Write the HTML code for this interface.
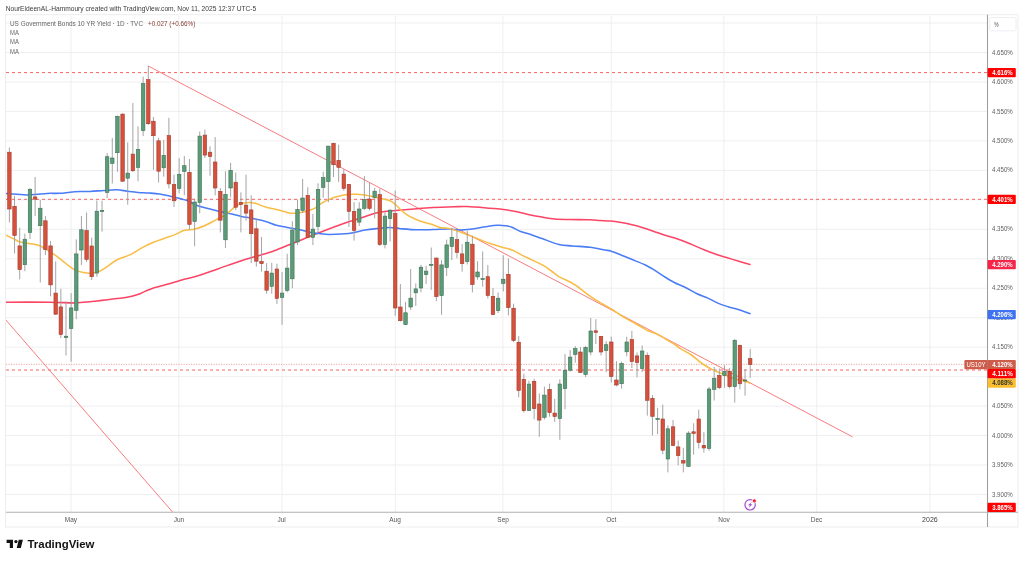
<!DOCTYPE html>
<html><head><meta charset="utf-8"><style>
html,body{margin:0;padding:0;background:#fff;width:1024px;height:561px;overflow:hidden}
body{position:relative;font-family:"Liberation Sans",sans-serif}
svg{position:absolute;left:0;top:0;filter:blur(0.35px)}
text{font-family:"Liberation Sans",sans-serif}
</style></head><body>
<svg width="1024" height="561" viewBox="0 0 1024 561">

<text x="5.7" y="10.8" font-size="7.9" fill="#3a3a3a" textLength="250.6" lengthAdjust="spacingAndGlyphs">NourEldeenAL-Hammoury created with TradingView.com, Nov 11, 2025 12:37 UTC-5</text>
<rect x="5.5" y="14.7" width="1012.5" height="512.3" fill="none" stroke="#ededed" stroke-width="1"/>
<line x1="6" x2="987" y1="23.03" y2="23.03" stroke="#efeff1" stroke-width="1"/>
<line x1="6" x2="987" y1="52.50" y2="52.50" stroke="#efeff1" stroke-width="1"/>
<line x1="6" x2="987" y1="81.97" y2="81.97" stroke="#efeff1" stroke-width="1"/>
<line x1="6" x2="987" y1="111.43" y2="111.43" stroke="#efeff1" stroke-width="1"/>
<line x1="6" x2="987" y1="140.90" y2="140.90" stroke="#efeff1" stroke-width="1"/>
<line x1="6" x2="987" y1="170.37" y2="170.37" stroke="#efeff1" stroke-width="1"/>
<line x1="6" x2="987" y1="199.83" y2="199.83" stroke="#efeff1" stroke-width="1"/>
<line x1="6" x2="987" y1="229.30" y2="229.30" stroke="#efeff1" stroke-width="1"/>
<line x1="6" x2="987" y1="258.77" y2="258.77" stroke="#efeff1" stroke-width="1"/>
<line x1="6" x2="987" y1="288.23" y2="288.23" stroke="#efeff1" stroke-width="1"/>
<line x1="6" x2="987" y1="317.70" y2="317.70" stroke="#efeff1" stroke-width="1"/>
<line x1="6" x2="987" y1="347.17" y2="347.17" stroke="#efeff1" stroke-width="1"/>
<line x1="6" x2="987" y1="376.63" y2="376.63" stroke="#efeff1" stroke-width="1"/>
<line x1="6" x2="987" y1="406.10" y2="406.10" stroke="#efeff1" stroke-width="1"/>
<line x1="6" x2="987" y1="435.56" y2="435.56" stroke="#efeff1" stroke-width="1"/>
<line x1="6" x2="987" y1="465.03" y2="465.03" stroke="#efeff1" stroke-width="1"/>
<line x1="6" x2="987" y1="494.50" y2="494.50" stroke="#efeff1" stroke-width="1"/>
<line x1="71.05" x2="71.05" y1="16" y2="512" stroke="#efeff1" stroke-width="1"/>
<line x1="178.84" x2="178.84" y1="16" y2="512" stroke="#efeff1" stroke-width="1"/>
<line x1="282.06" x2="282.06" y1="16" y2="512" stroke="#efeff1" stroke-width="1"/>
<line x1="395.34" x2="395.34" y1="16" y2="512" stroke="#efeff1" stroke-width="1"/>
<line x1="502.9" x2="502.9" y1="16" y2="512" stroke="#efeff1" stroke-width="1"/>
<line x1="611.23" x2="611.23" y1="16" y2="512" stroke="#efeff1" stroke-width="1"/>
<line x1="723.9" x2="723.9" y1="16" y2="512" stroke="#efeff1" stroke-width="1"/>
<line x1="816.76" x2="816.76" y1="16" y2="512" stroke="#efeff1" stroke-width="1"/>
<line x1="929.98" x2="929.98" y1="16" y2="512" stroke="#efeff1" stroke-width="1"/>
<defs><clipPath id="pane"><rect x="6" y="16" width="981" height="496"/></clipPath></defs>
<g clip-path="url(#pane)">
<line x1="6" x2="987" y1="72.6" y2="72.6" stroke="#f86262" stroke-width="1" stroke-dasharray="3 3"/>
<line x1="6" x2="987" y1="199.3" y2="199.3" stroke="#f86262" stroke-width="1" stroke-dasharray="3 3"/>
<line x1="6" x2="987" y1="370.0" y2="370.0" stroke="#f86262" stroke-width="1" stroke-dasharray="3 3"/>
<line x1="6" x2="987" y1="364.4" y2="364.4" stroke="#d9503d" stroke-opacity="0.6" stroke-width="0.8" stroke-dasharray="1.2 1.3"/>
<line x1="148" y1="65.9" x2="852.5" y2="436.8" stroke="#f77c80" stroke-width="1"/>
<line x1="5.9" y1="320.0" x2="172.5" y2="512" stroke="#f77c80" stroke-width="1"/>
<path d="M5.90,302.20 C13.25,302.20 38.48,302.08 50.00,302.20 C61.52,302.32 68.33,302.98 75.00,302.90 C81.67,302.82 86.67,301.98 90.00,301.70 C93.33,301.42 92.38,301.50 95.00,301.20 C97.62,300.90 102.13,300.33 105.70,299.90 C109.27,299.47 112.83,299.03 116.40,298.60 C119.97,298.17 123.53,297.97 127.10,297.30 C130.67,296.63 134.60,295.68 137.80,294.60 C141.00,293.52 143.45,291.97 146.30,290.80 C149.15,289.63 151.87,288.57 154.90,287.60 C157.93,286.63 161.12,285.93 164.50,285.00 C167.88,284.07 171.78,282.98 175.20,282.00 C178.62,281.02 181.47,280.05 185.00,279.10 C188.53,278.15 190.93,278.00 196.40,276.30 C201.87,274.60 210.68,271.38 217.80,268.90 C224.92,266.42 232.87,263.45 239.10,261.40 C245.33,259.35 250.88,257.88 255.20,256.60 C259.52,255.32 261.47,254.80 265.00,253.70 C268.53,252.60 270.93,252.07 276.40,250.00 C281.87,247.93 290.68,244.17 297.80,241.30 C304.92,238.43 311.23,235.83 319.10,232.80 C326.97,229.77 337.68,225.68 345.00,223.10 C352.32,220.52 357.83,218.98 363.00,217.30 C368.17,215.62 371.50,214.07 376.00,213.00 C380.50,211.93 385.88,211.38 390.00,210.90 C394.12,210.42 396.25,210.47 400.70,210.10 C405.15,209.73 411.35,209.12 416.70,208.70 C422.05,208.28 426.57,207.92 432.80,207.60 C439.03,207.28 448.40,206.97 454.10,206.80 C459.80,206.63 460.90,206.35 467.00,206.60 C473.10,206.85 484.62,207.83 490.70,208.30 C496.78,208.77 499.58,208.92 503.50,209.40 C507.42,209.88 510.10,210.37 514.20,211.20 C518.30,212.03 523.47,213.42 528.10,214.40 C532.73,215.38 537.55,216.33 542.00,217.10 C546.45,217.87 550.13,218.60 554.80,219.00 C559.47,219.40 564.13,219.37 570.00,219.50 C575.87,219.63 585.00,219.63 590.00,219.80 C595.00,219.97 596.55,220.30 600.00,220.50 C603.45,220.70 607.13,220.65 610.70,221.00 C614.27,221.35 617.83,221.97 621.40,222.60 C624.97,223.23 628.53,223.95 632.10,224.80 C635.67,225.65 639.25,226.63 642.80,227.70 C646.35,228.77 649.85,230.00 653.40,231.20 C656.95,232.40 660.53,233.75 664.10,234.90 C667.67,236.05 670.48,236.63 674.80,238.10 C679.12,239.57 685.03,241.72 690.00,243.70 C694.97,245.68 700.03,248.15 704.60,250.00 C709.17,251.85 713.48,253.47 717.40,254.80 C721.32,256.13 724.53,256.93 728.10,258.00 C731.67,259.07 735.15,260.13 738.80,261.20 C742.45,262.27 748.13,263.87 750.00,264.40" fill="none" stroke="#fb4565" stroke-width="1.55" stroke-linejoin="round" stroke-linecap="round"/>
<path d="M5.90,193.50 C7.75,193.63 13.48,194.05 17.00,194.30 C20.52,194.55 23.67,195.00 27.00,195.00 C30.33,195.00 33.67,194.57 37.00,194.30 C40.33,194.03 43.17,193.57 47.00,193.40 C50.83,193.23 56.17,193.50 60.00,193.30 C63.83,193.10 66.67,192.48 70.00,192.20 C73.33,191.92 76.67,191.73 80.00,191.60 C83.33,191.47 86.02,191.58 90.00,191.40 C93.98,191.22 99.45,190.77 103.90,190.50 C108.35,190.23 112.78,189.68 116.70,189.80 C120.62,189.92 123.83,190.77 127.40,191.20 C130.97,191.63 134.53,192.10 138.10,192.40 C141.67,192.70 145.23,192.73 148.80,193.00 C152.37,193.27 155.93,193.47 159.50,194.00 C163.07,194.53 166.78,195.43 170.20,196.20 C173.62,196.97 177.20,197.88 180.00,198.60 C182.80,199.32 184.27,199.40 187.00,200.50 C189.73,201.60 193.42,203.98 196.40,205.20 C199.38,206.42 201.33,206.83 204.90,207.80 C208.47,208.77 213.52,210.02 217.80,211.00 C222.08,211.98 226.68,212.80 230.60,213.70 C234.52,214.60 237.73,215.63 241.30,216.40 C244.87,217.17 247.93,217.45 252.00,218.30 C256.07,219.15 261.63,220.33 265.70,221.50 C269.77,222.67 272.83,224.32 276.40,225.30 C279.97,226.28 283.53,226.73 287.10,227.40 C290.67,228.07 294.25,228.55 297.80,229.30 C301.35,230.05 304.85,231.18 308.40,231.90 C311.95,232.62 315.53,233.18 319.10,233.60 C322.67,234.02 324.85,234.40 329.80,234.40 C334.75,234.40 342.95,234.32 348.80,233.60 C354.65,232.88 360.08,230.95 364.90,230.10 C369.72,229.25 373.52,228.92 377.70,228.50 C381.88,228.08 386.17,227.57 390.00,227.60 C393.83,227.63 396.25,228.33 400.70,228.70 C405.15,229.07 411.35,229.65 416.70,229.80 C422.05,229.95 427.45,229.73 432.80,229.60 C438.15,229.47 444.35,228.92 448.80,229.00 C453.25,229.08 455.93,230.05 459.50,230.10 C463.07,230.15 465.35,229.95 470.20,229.30 C475.05,228.65 484.12,226.87 488.60,226.20 C493.08,225.53 494.25,225.38 497.10,225.30 C499.95,225.22 503.20,225.37 505.70,225.70 C508.20,226.03 509.62,226.33 512.10,227.30 C514.58,228.27 517.40,230.27 520.60,231.50 C523.80,232.73 527.73,233.53 531.30,234.70 C534.87,235.87 537.40,236.87 542.00,238.50 C546.60,240.13 553.77,243.27 558.90,244.50 C564.03,245.73 567.63,245.43 572.80,245.90 C577.97,246.37 584.57,246.62 589.90,247.30 C595.23,247.98 601.33,249.38 604.80,250.00 C608.27,250.62 607.93,250.13 610.70,251.00 C613.47,251.87 617.83,253.78 621.40,255.20 C624.97,256.62 628.18,257.90 632.10,259.50 C636.02,261.10 641.52,263.23 644.90,264.80 C648.28,266.37 649.37,267.07 652.40,268.90 C655.43,270.73 659.53,273.58 663.10,275.80 C666.67,278.02 670.23,280.33 673.80,282.20 C677.37,284.07 680.62,285.07 684.50,287.00 C688.38,288.93 693.22,291.95 697.10,293.80 C700.98,295.65 704.23,296.50 707.80,298.10 C711.37,299.70 715.12,301.97 718.50,303.40 C721.88,304.83 724.53,305.60 728.10,306.70 C731.67,307.80 736.25,308.85 739.90,310.00 C743.55,311.15 748.32,313.00 750.00,313.60" fill="none" stroke="#4a7cf6" stroke-width="1.55" stroke-linejoin="round" stroke-linecap="round"/>
<path d="M5.90,235.20 C7.23,235.82 11.50,237.75 13.90,238.90 C16.30,240.05 17.80,241.35 20.30,242.10 C22.80,242.85 25.87,242.87 28.90,243.40 C31.93,243.93 35.83,244.45 38.50,245.30 C41.17,246.15 42.42,247.07 44.90,248.50 C47.38,249.93 50.55,251.93 53.40,253.90 C56.25,255.87 59.50,258.35 62.00,260.30 C64.50,262.25 66.27,264.00 68.40,265.60 C70.53,267.20 72.30,268.73 74.80,269.90 C77.30,271.07 80.87,272.03 83.40,272.60 C85.93,273.17 87.42,273.48 90.00,273.30 C92.58,273.12 96.17,272.52 98.90,271.50 C101.63,270.48 103.37,269.17 106.40,267.20 C109.43,265.23 113.18,261.75 117.10,259.70 C121.02,257.65 125.63,256.95 129.90,254.90 C134.17,252.85 138.78,249.50 142.70,247.40 C146.62,245.30 149.83,243.80 153.40,242.30 C156.97,240.80 160.50,239.68 164.10,238.40 C167.70,237.12 171.58,235.95 175.00,234.60 C178.42,233.25 181.40,231.20 184.60,230.30 C187.80,229.40 190.98,229.92 194.20,229.20 C197.42,228.48 200.33,227.52 203.90,226.00 C207.47,224.48 212.40,221.70 215.60,220.10 C218.80,218.50 220.78,217.82 223.10,216.40 C225.42,214.98 227.53,213.20 229.50,211.60 C231.47,210.00 232.93,208.13 234.90,206.80 C236.87,205.47 238.82,204.32 241.30,203.60 C243.78,202.88 247.35,202.52 249.80,202.50 C252.25,202.48 253.35,202.73 256.00,203.50 C258.65,204.27 262.30,206.10 265.70,207.10 C269.10,208.10 272.83,208.62 276.40,209.50 C279.97,210.38 284.43,211.77 287.10,212.40 C289.77,213.03 290.27,213.25 292.40,213.30 C294.53,213.35 297.23,213.12 299.90,212.70 C302.57,212.28 305.90,211.55 308.40,210.80 C310.90,210.05 312.75,209.43 314.90,208.20 C317.05,206.97 318.82,204.92 321.30,203.40 C323.78,201.88 326.95,200.27 329.80,199.10 C332.65,197.93 335.77,197.12 338.40,196.40 C341.03,195.68 342.62,195.15 345.60,194.80 C348.58,194.45 352.20,194.12 356.30,194.30 C360.40,194.48 366.10,195.20 370.20,195.90 C374.30,196.60 377.60,197.70 380.90,198.50 C384.20,199.30 387.60,199.72 390.00,200.70 C392.40,201.68 393.52,202.88 395.30,204.40 C397.08,205.92 398.92,208.18 400.70,209.80 C402.48,211.42 404.22,212.85 406.00,214.10 C407.78,215.35 409.08,216.15 411.40,217.30 C413.72,218.45 416.70,219.88 419.90,221.00 C423.10,222.12 427.22,222.93 430.60,224.00 C433.98,225.07 436.98,226.62 440.20,227.40 C443.42,228.18 446.68,227.98 449.90,228.70 C453.12,229.42 456.30,230.58 459.50,231.70 C462.70,232.82 465.68,234.07 469.10,235.40 C472.52,236.73 476.40,238.30 480.00,239.70 C483.60,241.10 487.13,242.58 490.70,243.80 C494.27,245.02 497.83,245.97 501.40,247.00 C504.97,248.03 508.53,248.57 512.10,250.00 C515.67,251.43 519.82,254.10 522.80,255.60 C525.78,257.10 526.67,257.42 530.00,259.00 C533.33,260.58 539.23,263.10 542.80,265.10 C546.37,267.10 548.72,269.08 551.40,271.00 C554.08,272.92 555.70,274.73 558.90,276.60 C562.10,278.47 567.40,280.47 570.60,282.20 C573.80,283.93 575.60,285.22 578.10,287.00 C580.60,288.78 582.75,290.80 585.60,292.90 C588.45,295.00 590.90,296.92 595.20,299.60 C599.50,302.28 606.92,306.23 611.40,309.00 C615.88,311.77 618.53,314.02 622.10,316.20 C625.67,318.38 629.25,320.13 632.80,322.10 C636.35,324.07 640.92,326.55 643.40,328.00 C645.88,329.45 645.55,329.83 647.70,330.80 C649.85,331.77 653.45,332.50 656.30,333.80 C659.15,335.10 661.60,336.73 664.80,338.60 C668.00,340.47 672.97,343.38 675.50,345.00 C678.03,346.62 677.35,346.63 680.00,348.30 C682.65,349.97 687.72,352.47 691.40,355.00 C695.08,357.53 698.53,361.02 702.10,363.50 C705.67,365.98 709.25,368.12 712.80,369.90 C716.35,371.68 719.85,372.73 723.40,374.20 C726.95,375.67 730.53,377.53 734.10,378.70 C737.67,379.87 742.12,380.43 744.80,381.20 C747.48,381.97 749.30,382.95 750.20,383.30" fill="none" stroke="#f8bd45" stroke-width="1.55" stroke-linejoin="round" stroke-linecap="round"/>
<line x1="9.40" x2="9.40" y1="147.5" y2="222.4" stroke="#9a9a9a" stroke-width="0.9"/>
<line x1="14.54" x2="14.54" y1="195.9" y2="253.5" stroke="#9a9a9a" stroke-width="0.9"/>
<line x1="19.69" x2="19.69" y1="227.6" y2="279.4" stroke="#9a9a9a" stroke-width="0.9"/>
<line x1="24.83" x2="24.83" y1="233.7" y2="271.2" stroke="#9a9a9a" stroke-width="0.9"/>
<line x1="29.98" x2="29.98" y1="188.0" y2="238.9" stroke="#9a9a9a" stroke-width="0.9"/>
<line x1="35.12" x2="35.12" y1="176.9" y2="216.0" stroke="#9a9a9a" stroke-width="0.9"/>
<line x1="40.27" x2="40.27" y1="199.8" y2="282.5" stroke="#9a9a9a" stroke-width="0.9"/>
<line x1="45.41" x2="45.41" y1="216.0" y2="255.0" stroke="#9a9a9a" stroke-width="0.9"/>
<line x1="50.56" x2="50.56" y1="241.0" y2="296.3" stroke="#9a9a9a" stroke-width="0.9"/>
<line x1="55.70" x2="55.70" y1="261.4" y2="315.0" stroke="#9a9a9a" stroke-width="0.9"/>
<line x1="60.84" x2="60.84" y1="288.8" y2="338.0" stroke="#9a9a9a" stroke-width="0.9"/>
<line x1="65.99" x2="65.99" y1="301.6" y2="355.5" stroke="#9a9a9a" stroke-width="0.9"/>
<line x1="71.13" x2="71.13" y1="293.1" y2="361.8" stroke="#9a9a9a" stroke-width="0.9"/>
<line x1="76.28" x2="76.28" y1="239.4" y2="319.2" stroke="#9a9a9a" stroke-width="0.9"/>
<line x1="81.42" x2="81.42" y1="216.0" y2="264.9" stroke="#9a9a9a" stroke-width="0.9"/>
<line x1="86.57" x2="86.57" y1="212.5" y2="262.0" stroke="#9a9a9a" stroke-width="0.9"/>
<line x1="91.71" x2="91.71" y1="237.6" y2="280.0" stroke="#9a9a9a" stroke-width="0.9"/>
<line x1="96.85" x2="96.85" y1="200.5" y2="276.7" stroke="#9a9a9a" stroke-width="0.9"/>
<line x1="102.00" x2="102.00" y1="200.8" y2="231.6" stroke="#9a9a9a" stroke-width="0.9"/>
<line x1="107.14" x2="107.14" y1="153.1" y2="198.2" stroke="#9a9a9a" stroke-width="0.9"/>
<line x1="112.29" x2="112.29" y1="138.0" y2="183.5" stroke="#9a9a9a" stroke-width="0.9"/>
<line x1="117.43" x2="117.43" y1="115.5" y2="171.8" stroke="#9a9a9a" stroke-width="0.9"/>
<line x1="122.58" x2="122.58" y1="113.3" y2="182.0" stroke="#9a9a9a" stroke-width="0.9"/>
<line x1="127.72" x2="127.72" y1="142.4" y2="204.7" stroke="#9a9a9a" stroke-width="0.9"/>
<line x1="132.87" x2="132.87" y1="103.1" y2="172.0" stroke="#9a9a9a" stroke-width="0.9"/>
<line x1="138.01" x2="138.01" y1="126.3" y2="181.2" stroke="#9a9a9a" stroke-width="0.9"/>
<line x1="143.15" x2="143.15" y1="76.7" y2="136.1" stroke="#9a9a9a" stroke-width="0.9"/>
<line x1="148.30" x2="148.30" y1="65.9" y2="125.0" stroke="#9a9a9a" stroke-width="0.9"/>
<line x1="153.44" x2="153.44" y1="116.9" y2="169.8" stroke="#9a9a9a" stroke-width="0.9"/>
<line x1="158.59" x2="158.59" y1="138.0" y2="182.5" stroke="#9a9a9a" stroke-width="0.9"/>
<line x1="163.73" x2="163.73" y1="140.0" y2="176.7" stroke="#9a9a9a" stroke-width="0.9"/>
<line x1="168.88" x2="168.88" y1="117.8" y2="188.4" stroke="#9a9a9a" stroke-width="0.9"/>
<line x1="174.02" x2="174.02" y1="174.7" y2="207.0" stroke="#9a9a9a" stroke-width="0.9"/>
<line x1="179.17" x2="179.17" y1="158.0" y2="193.3" stroke="#9a9a9a" stroke-width="0.9"/>
<line x1="184.31" x2="184.31" y1="156.0" y2="195.3" stroke="#9a9a9a" stroke-width="0.9"/>
<line x1="189.45" x2="189.45" y1="159.0" y2="229.6" stroke="#9a9a9a" stroke-width="0.9"/>
<line x1="194.60" x2="194.60" y1="198.6" y2="246.2" stroke="#9a9a9a" stroke-width="0.9"/>
<line x1="199.74" x2="199.74" y1="131.6" y2="213.3" stroke="#9a9a9a" stroke-width="0.9"/>
<line x1="204.89" x2="204.89" y1="129.6" y2="158.0" stroke="#9a9a9a" stroke-width="0.9"/>
<line x1="210.03" x2="210.03" y1="146.3" y2="175.7" stroke="#9a9a9a" stroke-width="0.9"/>
<line x1="215.18" x2="215.18" y1="137.1" y2="195.3" stroke="#9a9a9a" stroke-width="0.9"/>
<line x1="220.32" x2="220.32" y1="188.0" y2="232.4" stroke="#9a9a9a" stroke-width="0.9"/>
<line x1="225.46" x2="225.46" y1="171.2" y2="248.0" stroke="#9a9a9a" stroke-width="0.9"/>
<line x1="230.61" x2="230.61" y1="163.0" y2="197.3" stroke="#9a9a9a" stroke-width="0.9"/>
<line x1="235.75" x2="235.75" y1="172.4" y2="210.0" stroke="#9a9a9a" stroke-width="0.9"/>
<line x1="240.90" x2="240.90" y1="192.4" y2="232.4" stroke="#9a9a9a" stroke-width="0.9"/>
<line x1="246.04" x2="246.04" y1="174.7" y2="220.6" stroke="#9a9a9a" stroke-width="0.9"/>
<line x1="251.19" x2="251.19" y1="195.3" y2="263.1" stroke="#9a9a9a" stroke-width="0.9"/>
<line x1="256.33" x2="256.33" y1="218.6" y2="266.7" stroke="#9a9a9a" stroke-width="0.9"/>
<line x1="261.48" x2="261.48" y1="236.9" y2="271.6" stroke="#9a9a9a" stroke-width="0.9"/>
<line x1="266.62" x2="266.62" y1="263.1" y2="293.7" stroke="#9a9a9a" stroke-width="0.9"/>
<line x1="271.76" x2="271.76" y1="262.7" y2="293.7" stroke="#9a9a9a" stroke-width="0.9"/>
<line x1="276.91" x2="276.91" y1="263.7" y2="303.9" stroke="#9a9a9a" stroke-width="0.9"/>
<line x1="282.05" x2="282.05" y1="272.1" y2="324.9" stroke="#9a9a9a" stroke-width="0.9"/>
<line x1="287.20" x2="287.20" y1="253.8" y2="292.3" stroke="#9a9a9a" stroke-width="0.9"/>
<line x1="292.34" x2="292.34" y1="221.2" y2="288.2" stroke="#9a9a9a" stroke-width="0.9"/>
<line x1="297.49" x2="297.49" y1="199.6" y2="245.1" stroke="#9a9a9a" stroke-width="0.9"/>
<line x1="302.63" x2="302.63" y1="179.0" y2="213.0" stroke="#9a9a9a" stroke-width="0.9"/>
<line x1="307.78" x2="307.78" y1="187.3" y2="238.0" stroke="#9a9a9a" stroke-width="0.9"/>
<line x1="312.92" x2="312.92" y1="213.9" y2="245.1" stroke="#9a9a9a" stroke-width="0.9"/>
<line x1="318.06" x2="318.06" y1="183.3" y2="232.3" stroke="#9a9a9a" stroke-width="0.9"/>
<line x1="323.21" x2="323.21" y1="171.8" y2="197.6" stroke="#9a9a9a" stroke-width="0.9"/>
<line x1="328.35" x2="328.35" y1="146.1" y2="202.2" stroke="#9a9a9a" stroke-width="0.9"/>
<line x1="333.50" x2="333.50" y1="142.7" y2="177.0" stroke="#9a9a9a" stroke-width="0.9"/>
<line x1="338.64" x2="338.64" y1="144.7" y2="182.0" stroke="#9a9a9a" stroke-width="0.9"/>
<line x1="343.79" x2="343.79" y1="169.2" y2="190.8" stroke="#9a9a9a" stroke-width="0.9"/>
<line x1="348.93" x2="348.93" y1="183.9" y2="227.0" stroke="#9a9a9a" stroke-width="0.9"/>
<line x1="354.07" x2="354.07" y1="202.2" y2="240.6" stroke="#9a9a9a" stroke-width="0.9"/>
<line x1="359.22" x2="359.22" y1="202.2" y2="226.0" stroke="#9a9a9a" stroke-width="0.9"/>
<line x1="364.36" x2="364.36" y1="176.1" y2="210.0" stroke="#9a9a9a" stroke-width="0.9"/>
<line x1="369.51" x2="369.51" y1="182.9" y2="210.4" stroke="#9a9a9a" stroke-width="0.9"/>
<line x1="374.65" x2="374.65" y1="187.8" y2="218.2" stroke="#9a9a9a" stroke-width="0.9"/>
<line x1="379.80" x2="379.80" y1="188.6" y2="246.0" stroke="#9a9a9a" stroke-width="0.9"/>
<line x1="384.94" x2="384.94" y1="212.2" y2="248.4" stroke="#9a9a9a" stroke-width="0.9"/>
<line x1="390.09" x2="390.09" y1="209.2" y2="241.6" stroke="#9a9a9a" stroke-width="0.9"/>
<line x1="395.23" x2="395.23" y1="190.6" y2="315.8" stroke="#9a9a9a" stroke-width="0.9"/>
<line x1="400.37" x2="400.37" y1="284.0" y2="321.5" stroke="#9a9a9a" stroke-width="0.9"/>
<line x1="405.52" x2="405.52" y1="302.0" y2="325.2" stroke="#9a9a9a" stroke-width="0.9"/>
<line x1="410.66" x2="410.66" y1="269.1" y2="309.9" stroke="#9a9a9a" stroke-width="0.9"/>
<line x1="415.81" x2="415.81" y1="283.4" y2="306.0" stroke="#9a9a9a" stroke-width="0.9"/>
<line x1="420.95" x2="420.95" y1="264.8" y2="292.3" stroke="#9a9a9a" stroke-width="0.9"/>
<line x1="426.10" x2="426.10" y1="265.8" y2="284.0" stroke="#9a9a9a" stroke-width="0.9"/>
<line x1="431.24" x2="431.24" y1="247.5" y2="289.9" stroke="#9a9a9a" stroke-width="0.9"/>
<line x1="436.39" x2="436.39" y1="257.3" y2="301.1" stroke="#9a9a9a" stroke-width="0.9"/>
<line x1="441.53" x2="441.53" y1="260.2" y2="314.8" stroke="#9a9a9a" stroke-width="0.9"/>
<line x1="446.67" x2="446.67" y1="239.6" y2="276.0" stroke="#9a9a9a" stroke-width="0.9"/>
<line x1="451.82" x2="451.82" y1="227.8" y2="260.0" stroke="#9a9a9a" stroke-width="0.9"/>
<line x1="456.96" x2="456.96" y1="229.8" y2="258.2" stroke="#9a9a9a" stroke-width="0.9"/>
<line x1="462.11" x2="462.11" y1="244.1" y2="271.6" stroke="#9a9a9a" stroke-width="0.9"/>
<line x1="467.25" x2="467.25" y1="230.8" y2="264.5" stroke="#9a9a9a" stroke-width="0.9"/>
<line x1="472.40" x2="472.40" y1="235.7" y2="292.4" stroke="#9a9a9a" stroke-width="0.9"/>
<line x1="477.54" x2="477.54" y1="261.2" y2="279.8" stroke="#9a9a9a" stroke-width="0.9"/>
<line x1="482.68" x2="482.68" y1="251.4" y2="286.7" stroke="#9a9a9a" stroke-width="0.9"/>
<line x1="487.83" x2="487.83" y1="265.1" y2="298.4" stroke="#9a9a9a" stroke-width="0.9"/>
<line x1="492.97" x2="492.97" y1="288.0" y2="315.1" stroke="#9a9a9a" stroke-width="0.9"/>
<line x1="498.12" x2="498.12" y1="292.5" y2="313.0" stroke="#9a9a9a" stroke-width="0.9"/>
<line x1="503.26" x2="503.26" y1="255.3" y2="291.4" stroke="#9a9a9a" stroke-width="0.9"/>
<line x1="508.41" x2="508.41" y1="258.6" y2="315.5" stroke="#9a9a9a" stroke-width="0.9"/>
<line x1="513.55" x2="513.55" y1="303.7" y2="342.2" stroke="#9a9a9a" stroke-width="0.9"/>
<line x1="518.70" x2="518.70" y1="336.1" y2="397.4" stroke="#9a9a9a" stroke-width="0.9"/>
<line x1="523.84" x2="523.84" y1="373.8" y2="412.5" stroke="#9a9a9a" stroke-width="0.9"/>
<line x1="528.98" x2="528.98" y1="380.7" y2="411.0" stroke="#9a9a9a" stroke-width="0.9"/>
<line x1="534.13" x2="534.13" y1="378.7" y2="419.3" stroke="#9a9a9a" stroke-width="0.9"/>
<line x1="539.27" x2="539.27" y1="393.5" y2="436.9" stroke="#9a9a9a" stroke-width="0.9"/>
<line x1="544.42" x2="544.42" y1="386.5" y2="419.5" stroke="#9a9a9a" stroke-width="0.9"/>
<line x1="549.56" x2="549.56" y1="383.7" y2="416.7" stroke="#9a9a9a" stroke-width="0.9"/>
<line x1="554.71" x2="554.71" y1="398.8" y2="421.9" stroke="#9a9a9a" stroke-width="0.9"/>
<line x1="559.85" x2="559.85" y1="379.3" y2="439.8" stroke="#9a9a9a" stroke-width="0.9"/>
<line x1="565.00" x2="565.00" y1="354.0" y2="409.2" stroke="#9a9a9a" stroke-width="0.9"/>
<line x1="570.14" x2="570.14" y1="350.0" y2="371.6" stroke="#9a9a9a" stroke-width="0.9"/>
<line x1="575.28" x2="575.28" y1="346.1" y2="362.7" stroke="#9a9a9a" stroke-width="0.9"/>
<line x1="580.43" x2="580.43" y1="347.0" y2="373.0" stroke="#9a9a9a" stroke-width="0.9"/>
<line x1="585.57" x2="585.57" y1="346.1" y2="377.1" stroke="#9a9a9a" stroke-width="0.9"/>
<line x1="590.72" x2="590.72" y1="318.0" y2="355.3" stroke="#9a9a9a" stroke-width="0.9"/>
<line x1="595.86" x2="595.86" y1="319.2" y2="344.1" stroke="#9a9a9a" stroke-width="0.9"/>
<line x1="601.01" x2="601.01" y1="336.3" y2="355.5" stroke="#9a9a9a" stroke-width="0.9"/>
<line x1="606.15" x2="606.15" y1="341.2" y2="372.2" stroke="#9a9a9a" stroke-width="0.9"/>
<line x1="611.29" x2="611.29" y1="336.5" y2="382.5" stroke="#9a9a9a" stroke-width="0.9"/>
<line x1="616.44" x2="616.44" y1="361.2" y2="386.3" stroke="#9a9a9a" stroke-width="0.9"/>
<line x1="621.58" x2="621.58" y1="361.6" y2="388.6" stroke="#9a9a9a" stroke-width="0.9"/>
<line x1="626.73" x2="626.73" y1="336.7" y2="356.3" stroke="#9a9a9a" stroke-width="0.9"/>
<line x1="631.87" x2="631.87" y1="330.8" y2="368.0" stroke="#9a9a9a" stroke-width="0.9"/>
<line x1="637.02" x2="637.02" y1="352.4" y2="377.3" stroke="#9a9a9a" stroke-width="0.9"/>
<line x1="642.16" x2="642.16" y1="345.5" y2="372.0" stroke="#9a9a9a" stroke-width="0.9"/>
<line x1="647.31" x2="647.31" y1="352.4" y2="415.6" stroke="#9a9a9a" stroke-width="0.9"/>
<line x1="652.45" x2="652.45" y1="395.1" y2="435.5" stroke="#9a9a9a" stroke-width="0.9"/>
<line x1="657.59" x2="657.59" y1="407.9" y2="434.1" stroke="#9a9a9a" stroke-width="0.9"/>
<line x1="662.74" x2="662.74" y1="404.7" y2="454.3" stroke="#9a9a9a" stroke-width="0.9"/>
<line x1="667.88" x2="667.88" y1="425.3" y2="472.4" stroke="#9a9a9a" stroke-width="0.9"/>
<line x1="673.03" x2="673.03" y1="419.9" y2="446.0" stroke="#9a9a9a" stroke-width="0.9"/>
<line x1="678.17" x2="678.17" y1="440.6" y2="465.5" stroke="#9a9a9a" stroke-width="0.9"/>
<line x1="683.32" x2="683.32" y1="447.8" y2="472.4" stroke="#9a9a9a" stroke-width="0.9"/>
<line x1="688.46" x2="688.46" y1="431.2" y2="467.0" stroke="#9a9a9a" stroke-width="0.9"/>
<line x1="693.61" x2="693.61" y1="423.3" y2="454.7" stroke="#9a9a9a" stroke-width="0.9"/>
<line x1="698.75" x2="698.75" y1="409.7" y2="448.4" stroke="#9a9a9a" stroke-width="0.9"/>
<line x1="703.89" x2="703.89" y1="432.2" y2="452.7" stroke="#9a9a9a" stroke-width="0.9"/>
<line x1="709.04" x2="709.04" y1="387.0" y2="450.8" stroke="#9a9a9a" stroke-width="0.9"/>
<line x1="714.18" x2="714.18" y1="366.9" y2="400.5" stroke="#9a9a9a" stroke-width="0.9"/>
<line x1="719.33" x2="719.33" y1="368.5" y2="389.0" stroke="#9a9a9a" stroke-width="0.9"/>
<line x1="724.47" x2="724.47" y1="365.4" y2="387.7" stroke="#9a9a9a" stroke-width="0.9"/>
<line x1="729.62" x2="729.62" y1="368.1" y2="388.5" stroke="#9a9a9a" stroke-width="0.9"/>
<line x1="734.76" x2="734.76" y1="339.0" y2="402.6" stroke="#9a9a9a" stroke-width="0.9"/>
<line x1="739.90" x2="739.90" y1="345.0" y2="389.4" stroke="#9a9a9a" stroke-width="0.9"/>
<line x1="745.05" x2="745.05" y1="369.3" y2="395.7" stroke="#9a9a9a" stroke-width="0.9"/>
<line x1="750.19" x2="750.19" y1="348.8" y2="377.8" stroke="#9a9a9a" stroke-width="0.9"/>
<rect x="7.65" y="152.20" width="3.5" height="56.80" fill="#d7503c" stroke="#9f3c2d" stroke-width="0.6"/>
<rect x="12.79" y="206.30" width="3.5" height="29.20" fill="#d7503c" stroke="#9f3c2d" stroke-width="0.6"/>
<rect x="17.94" y="245.90" width="3.5" height="23.70" fill="#d7503c" stroke="#9f3c2d" stroke-width="0.6"/>
<rect x="23.08" y="239.20" width="3.5" height="25.50" fill="#5b9b77" stroke="#3d7356" stroke-width="0.6"/>
<rect x="28.23" y="189.40" width="3.5" height="43.00" fill="#5b9b77" stroke="#3d7356" stroke-width="0.6"/>
<rect x="33.37" y="196.90" width="3.5" height="2.30" fill="#d7503c" stroke="#9f3c2d" stroke-width="0.6"/>
<rect x="38.52" y="208.20" width="3.5" height="17.50" fill="#5b9b77" stroke="#3d7356" stroke-width="0.6"/>
<rect x="43.66" y="220.80" width="3.5" height="28.80" fill="#d7503c" stroke="#9f3c2d" stroke-width="0.6"/>
<rect x="48.81" y="245.90" width="3.5" height="39.00" fill="#d7503c" stroke="#9f3c2d" stroke-width="0.6"/>
<rect x="53.95" y="293.10" width="3.5" height="21.10" fill="#d7503c" stroke="#9f3c2d" stroke-width="0.6"/>
<rect x="59.09" y="306.90" width="3.5" height="27.60" fill="#d7503c" stroke="#9f3c2d" stroke-width="0.6"/>
<rect x="64.24" y="336.20" width="3.5" height="1.40" fill="#5b9b77" stroke="#3d7356" stroke-width="0.6"/>
<rect x="69.38" y="307.90" width="3.5" height="20.70" fill="#5b9b77" stroke="#3d7356" stroke-width="0.6"/>
<rect x="74.53" y="253.90" width="3.5" height="56.40" fill="#5b9b77" stroke="#3d7356" stroke-width="0.6"/>
<rect x="79.67" y="229.80" width="3.5" height="20.20" fill="#5b9b77" stroke="#3d7356" stroke-width="0.6"/>
<rect x="84.82" y="230.60" width="3.5" height="28.80" fill="#d7503c" stroke="#9f3c2d" stroke-width="0.6"/>
<rect x="89.96" y="246.00" width="3.5" height="30.70" fill="#d7503c" stroke="#9f3c2d" stroke-width="0.6"/>
<rect x="95.10" y="211.20" width="3.5" height="61.90" fill="#5b9b77" stroke="#3d7356" stroke-width="0.6"/>
<rect x="100.25" y="210.40" width="3.5" height="1.20" fill="#5b9b77" stroke="#3d7356" stroke-width="0.6"/>
<rect x="105.39" y="156.70" width="3.5" height="35.70" fill="#5b9b77" stroke="#3d7356" stroke-width="0.6"/>
<rect x="110.54" y="158.00" width="3.5" height="5.30" fill="#5b9b77" stroke="#3d7356" stroke-width="0.6"/>
<rect x="115.68" y="116.30" width="3.5" height="36.40" fill="#5b9b77" stroke="#3d7356" stroke-width="0.6"/>
<rect x="120.83" y="114.10" width="3.5" height="67.10" fill="#d7503c" stroke="#9f3c2d" stroke-width="0.6"/>
<rect x="125.97" y="173.10" width="3.5" height="5.10" fill="#5b9b77" stroke="#3d7356" stroke-width="0.6"/>
<rect x="131.12" y="154.10" width="3.5" height="16.70" fill="#d7503c" stroke="#9f3c2d" stroke-width="0.6"/>
<rect x="136.26" y="149.40" width="3.5" height="18.10" fill="#5b9b77" stroke="#3d7356" stroke-width="0.6"/>
<rect x="141.40" y="83.50" width="3.5" height="47.10" fill="#5b9b77" stroke="#3d7356" stroke-width="0.6"/>
<rect x="146.55" y="79.60" width="3.5" height="44.10" fill="#d7503c" stroke="#9f3c2d" stroke-width="0.6"/>
<rect x="151.69" y="121.20" width="3.5" height="14.50" fill="#d7503c" stroke="#9f3c2d" stroke-width="0.6"/>
<rect x="156.84" y="140.80" width="3.5" height="30.40" fill="#d7503c" stroke="#9f3c2d" stroke-width="0.6"/>
<rect x="161.98" y="155.30" width="3.5" height="12.50" fill="#5b9b77" stroke="#3d7356" stroke-width="0.6"/>
<rect x="167.13" y="135.50" width="3.5" height="48.40" fill="#d7503c" stroke="#9f3c2d" stroke-width="0.6"/>
<rect x="172.27" y="184.50" width="3.5" height="16.30" fill="#d7503c" stroke="#9f3c2d" stroke-width="0.6"/>
<rect x="177.42" y="174.30" width="3.5" height="14.10" fill="#5b9b77" stroke="#3d7356" stroke-width="0.6"/>
<rect x="182.56" y="165.70" width="3.5" height="5.70" fill="#5b9b77" stroke="#3d7356" stroke-width="0.6"/>
<rect x="187.70" y="172.40" width="3.5" height="52.00" fill="#d7503c" stroke="#9f3c2d" stroke-width="0.6"/>
<rect x="192.85" y="202.00" width="3.5" height="19.50" fill="#5b9b77" stroke="#3d7356" stroke-width="0.6"/>
<rect x="197.99" y="136.10" width="3.5" height="66.20" fill="#5b9b77" stroke="#3d7356" stroke-width="0.6"/>
<rect x="203.14" y="135.10" width="3.5" height="20.00" fill="#d7503c" stroke="#9f3c2d" stroke-width="0.6"/>
<rect x="208.28" y="152.20" width="3.5" height="4.30" fill="#d7503c" stroke="#9f3c2d" stroke-width="0.6"/>
<rect x="213.43" y="162.00" width="3.5" height="26.00" fill="#d7503c" stroke="#9f3c2d" stroke-width="0.6"/>
<rect x="218.57" y="191.40" width="3.5" height="28.80" fill="#d7503c" stroke="#9f3c2d" stroke-width="0.6"/>
<rect x="223.71" y="194.30" width="3.5" height="45.50" fill="#5b9b77" stroke="#3d7356" stroke-width="0.6"/>
<rect x="228.86" y="170.40" width="3.5" height="17.60" fill="#5b9b77" stroke="#3d7356" stroke-width="0.6"/>
<rect x="234.00" y="182.20" width="3.5" height="25.00" fill="#d7503c" stroke="#9f3c2d" stroke-width="0.6"/>
<rect x="239.15" y="202.30" width="3.5" height="2.20" fill="#d7503c" stroke="#9f3c2d" stroke-width="0.6"/>
<rect x="244.29" y="205.10" width="3.5" height="8.00" fill="#d7503c" stroke="#9f3c2d" stroke-width="0.6"/>
<rect x="249.44" y="209.90" width="3.5" height="23.80" fill="#d7503c" stroke="#9f3c2d" stroke-width="0.6"/>
<rect x="254.58" y="228.80" width="3.5" height="32.40" fill="#d7503c" stroke="#9f3c2d" stroke-width="0.6"/>
<rect x="259.73" y="261.40" width="3.5" height="2.30" fill="#d7503c" stroke="#9f3c2d" stroke-width="0.6"/>
<rect x="264.87" y="271.20" width="3.5" height="19.00" fill="#d7503c" stroke="#9f3c2d" stroke-width="0.6"/>
<rect x="270.01" y="273.10" width="3.5" height="13.20" fill="#5b9b77" stroke="#3d7356" stroke-width="0.6"/>
<rect x="275.16" y="269.00" width="3.5" height="29.40" fill="#d7503c" stroke="#9f3c2d" stroke-width="0.6"/>
<rect x="280.30" y="293.10" width="3.5" height="4.40" fill="#5b9b77" stroke="#3d7356" stroke-width="0.6"/>
<rect x="285.45" y="268.10" width="3.5" height="22.30" fill="#5b9b77" stroke="#3d7356" stroke-width="0.6"/>
<rect x="290.59" y="230.10" width="3.5" height="48.70" fill="#5b9b77" stroke="#3d7356" stroke-width="0.6"/>
<rect x="295.74" y="209.40" width="3.5" height="32.60" fill="#5b9b77" stroke="#3d7356" stroke-width="0.6"/>
<rect x="300.88" y="198.00" width="3.5" height="12.40" fill="#5b9b77" stroke="#3d7356" stroke-width="0.6"/>
<rect x="306.03" y="195.30" width="3.5" height="42.10" fill="#d7503c" stroke="#9f3c2d" stroke-width="0.6"/>
<rect x="311.17" y="229.10" width="3.5" height="8.20" fill="#5b9b77" stroke="#3d7356" stroke-width="0.6"/>
<rect x="316.31" y="189.40" width="3.5" height="37.10" fill="#5b9b77" stroke="#3d7356" stroke-width="0.6"/>
<rect x="321.46" y="177.60" width="3.5" height="9.90" fill="#5b9b77" stroke="#3d7356" stroke-width="0.6"/>
<rect x="326.60" y="146.10" width="3.5" height="35.50" fill="#5b9b77" stroke="#3d7356" stroke-width="0.6"/>
<rect x="331.75" y="143.30" width="3.5" height="21.40" fill="#d7503c" stroke="#9f3c2d" stroke-width="0.6"/>
<rect x="336.89" y="160.40" width="3.5" height="6.90" fill="#d7503c" stroke="#9f3c2d" stroke-width="0.6"/>
<rect x="342.04" y="174.10" width="3.5" height="14.30" fill="#d7503c" stroke="#9f3c2d" stroke-width="0.6"/>
<rect x="347.18" y="184.30" width="3.5" height="27.10" fill="#d7503c" stroke="#9f3c2d" stroke-width="0.6"/>
<rect x="352.32" y="211.40" width="3.5" height="19.00" fill="#d7503c" stroke="#9f3c2d" stroke-width="0.6"/>
<rect x="357.47" y="209.00" width="3.5" height="13.10" fill="#5b9b77" stroke="#3d7356" stroke-width="0.6"/>
<rect x="362.61" y="199.60" width="3.5" height="8.80" fill="#5b9b77" stroke="#3d7356" stroke-width="0.6"/>
<rect x="367.76" y="199.00" width="3.5" height="9.40" fill="#d7503c" stroke="#9f3c2d" stroke-width="0.6"/>
<rect x="372.90" y="191.20" width="3.5" height="6.40" fill="#5b9b77" stroke="#3d7356" stroke-width="0.6"/>
<rect x="378.05" y="194.60" width="3.5" height="49.90" fill="#d7503c" stroke="#9f3c2d" stroke-width="0.6"/>
<rect x="383.19" y="216.10" width="3.5" height="28.40" fill="#5b9b77" stroke="#3d7356" stroke-width="0.6"/>
<rect x="388.34" y="210.20" width="3.5" height="8.40" fill="#5b9b77" stroke="#3d7356" stroke-width="0.6"/>
<rect x="393.48" y="213.50" width="3.5" height="94.50" fill="#d7503c" stroke="#9f3c2d" stroke-width="0.6"/>
<rect x="398.62" y="307.00" width="3.5" height="13.70" fill="#d7503c" stroke="#9f3c2d" stroke-width="0.6"/>
<rect x="403.77" y="312.80" width="3.5" height="11.80" fill="#5b9b77" stroke="#3d7356" stroke-width="0.6"/>
<rect x="408.91" y="298.10" width="3.5" height="8.90" fill="#5b9b77" stroke="#3d7356" stroke-width="0.6"/>
<rect x="414.06" y="288.90" width="3.5" height="3.90" fill="#5b9b77" stroke="#3d7356" stroke-width="0.6"/>
<rect x="419.20" y="267.20" width="3.5" height="20.80" fill="#5b9b77" stroke="#3d7356" stroke-width="0.6"/>
<rect x="424.35" y="271.10" width="3.5" height="3.50" fill="#5b9b77" stroke="#3d7356" stroke-width="0.6"/>
<rect x="429.49" y="264.40" width="3.5" height="1.00" fill="#5b9b77" stroke="#3d7356" stroke-width="0.6"/>
<rect x="434.64" y="258.10" width="3.5" height="38.50" fill="#d7503c" stroke="#9f3c2d" stroke-width="0.6"/>
<rect x="439.78" y="264.90" width="3.5" height="30.70" fill="#5b9b77" stroke="#3d7356" stroke-width="0.6"/>
<rect x="444.92" y="244.90" width="3.5" height="22.70" fill="#5b9b77" stroke="#3d7356" stroke-width="0.6"/>
<rect x="450.07" y="237.30" width="3.5" height="9.20" fill="#5b9b77" stroke="#3d7356" stroke-width="0.6"/>
<rect x="455.21" y="239.60" width="3.5" height="12.80" fill="#d7503c" stroke="#9f3c2d" stroke-width="0.6"/>
<rect x="460.36" y="253.90" width="3.5" height="9.80" fill="#d7503c" stroke="#9f3c2d" stroke-width="0.6"/>
<rect x="465.50" y="242.20" width="3.5" height="19.40" fill="#5b9b77" stroke="#3d7356" stroke-width="0.6"/>
<rect x="470.65" y="244.20" width="3.5" height="40.30" fill="#d7503c" stroke="#9f3c2d" stroke-width="0.6"/>
<rect x="475.79" y="272.00" width="3.5" height="4.90" fill="#5b9b77" stroke="#3d7356" stroke-width="0.6"/>
<rect x="480.93" y="278.60" width="3.5" height="1.00" fill="#5b9b77" stroke="#3d7356" stroke-width="0.6"/>
<rect x="486.08" y="276.70" width="3.5" height="18.80" fill="#d7503c" stroke="#9f3c2d" stroke-width="0.6"/>
<rect x="491.22" y="296.30" width="3.5" height="18.20" fill="#d7503c" stroke="#9f3c2d" stroke-width="0.6"/>
<rect x="496.37" y="298.20" width="3.5" height="12.40" fill="#5b9b77" stroke="#3d7356" stroke-width="0.6"/>
<rect x="501.51" y="279.20" width="3.5" height="4.30" fill="#5b9b77" stroke="#3d7356" stroke-width="0.6"/>
<rect x="506.66" y="274.30" width="3.5" height="33.30" fill="#d7503c" stroke="#9f3c2d" stroke-width="0.6"/>
<rect x="511.80" y="308.20" width="3.5" height="32.30" fill="#d7503c" stroke="#9f3c2d" stroke-width="0.6"/>
<rect x="516.95" y="342.20" width="3.5" height="48.30" fill="#d7503c" stroke="#9f3c2d" stroke-width="0.6"/>
<rect x="522.09" y="379.30" width="3.5" height="31.40" fill="#d7503c" stroke="#9f3c2d" stroke-width="0.6"/>
<rect x="527.23" y="384.10" width="3.5" height="26.40" fill="#5b9b77" stroke="#3d7356" stroke-width="0.6"/>
<rect x="532.38" y="381.30" width="3.5" height="27.40" fill="#d7503c" stroke="#9f3c2d" stroke-width="0.6"/>
<rect x="537.52" y="404.00" width="3.5" height="16.10" fill="#d7503c" stroke="#9f3c2d" stroke-width="0.6"/>
<rect x="542.67" y="395.10" width="3.5" height="22.20" fill="#5b9b77" stroke="#3d7356" stroke-width="0.6"/>
<rect x="547.81" y="389.30" width="3.5" height="23.30" fill="#d7503c" stroke="#9f3c2d" stroke-width="0.6"/>
<rect x="552.96" y="413.10" width="3.5" height="3.40" fill="#d7503c" stroke="#9f3c2d" stroke-width="0.6"/>
<rect x="558.10" y="384.00" width="3.5" height="34.60" fill="#5b9b77" stroke="#3d7356" stroke-width="0.6"/>
<rect x="563.25" y="370.30" width="3.5" height="18.30" fill="#5b9b77" stroke="#3d7356" stroke-width="0.6"/>
<rect x="568.39" y="357.10" width="3.5" height="13.10" fill="#5b9b77" stroke="#3d7356" stroke-width="0.6"/>
<rect x="573.53" y="348.60" width="3.5" height="5.90" fill="#5b9b77" stroke="#3d7356" stroke-width="0.6"/>
<rect x="578.68" y="352.00" width="3.5" height="20.50" fill="#d7503c" stroke="#9f3c2d" stroke-width="0.6"/>
<rect x="583.82" y="347.50" width="3.5" height="27.00" fill="#5b9b77" stroke="#3d7356" stroke-width="0.6"/>
<rect x="588.97" y="331.00" width="3.5" height="21.00" fill="#5b9b77" stroke="#3d7356" stroke-width="0.6"/>
<rect x="594.11" y="330.80" width="3.5" height="1.60" fill="#d7503c" stroke="#9f3c2d" stroke-width="0.6"/>
<rect x="599.26" y="336.30" width="3.5" height="15.70" fill="#d7503c" stroke="#9f3c2d" stroke-width="0.6"/>
<rect x="604.40" y="344.70" width="3.5" height="5.90" fill="#5b9b77" stroke="#3d7356" stroke-width="0.6"/>
<rect x="609.54" y="342.00" width="3.5" height="34.50" fill="#d7503c" stroke="#9f3c2d" stroke-width="0.6"/>
<rect x="614.69" y="380.00" width="3.5" height="5.00" fill="#d7503c" stroke="#9f3c2d" stroke-width="0.6"/>
<rect x="619.83" y="363.50" width="3.5" height="20.20" fill="#5b9b77" stroke="#3d7356" stroke-width="0.6"/>
<rect x="624.98" y="342.00" width="3.5" height="9.80" fill="#5b9b77" stroke="#3d7356" stroke-width="0.6"/>
<rect x="630.12" y="339.60" width="3.5" height="22.00" fill="#d7503c" stroke="#9f3c2d" stroke-width="0.6"/>
<rect x="635.27" y="355.90" width="3.5" height="6.60" fill="#d7503c" stroke="#9f3c2d" stroke-width="0.6"/>
<rect x="640.41" y="351.00" width="3.5" height="17.60" fill="#5b9b77" stroke="#3d7356" stroke-width="0.6"/>
<rect x="645.56" y="355.30" width="3.5" height="45.00" fill="#d7503c" stroke="#9f3c2d" stroke-width="0.6"/>
<rect x="650.70" y="398.30" width="3.5" height="18.00" fill="#d7503c" stroke="#9f3c2d" stroke-width="0.6"/>
<rect x="655.84" y="418.60" width="3.5" height="1.00" fill="#5b9b77" stroke="#3d7356" stroke-width="0.6"/>
<rect x="660.99" y="419.00" width="3.5" height="31.20" fill="#d7503c" stroke="#9f3c2d" stroke-width="0.6"/>
<rect x="666.13" y="428.80" width="3.5" height="30.20" fill="#5b9b77" stroke="#3d7356" stroke-width="0.6"/>
<rect x="671.28" y="426.80" width="3.5" height="18.70" fill="#d7503c" stroke="#9f3c2d" stroke-width="0.6"/>
<rect x="676.42" y="446.90" width="3.5" height="8.80" fill="#d7503c" stroke="#9f3c2d" stroke-width="0.6"/>
<rect x="681.57" y="460.60" width="3.5" height="2.50" fill="#d7503c" stroke="#9f3c2d" stroke-width="0.6"/>
<rect x="686.71" y="433.10" width="3.5" height="33.40" fill="#5b9b77" stroke="#3d7356" stroke-width="0.6"/>
<rect x="691.86" y="431.80" width="3.5" height="1.70" fill="#d7503c" stroke="#9f3c2d" stroke-width="0.6"/>
<rect x="697.00" y="419.00" width="3.5" height="23.50" fill="#d7503c" stroke="#9f3c2d" stroke-width="0.6"/>
<rect x="702.14" y="445.30" width="3.5" height="2.70" fill="#d7503c" stroke="#9f3c2d" stroke-width="0.6"/>
<rect x="707.29" y="389.00" width="3.5" height="59.40" fill="#5b9b77" stroke="#3d7356" stroke-width="0.6"/>
<rect x="712.43" y="378.20" width="3.5" height="11.20" fill="#5b9b77" stroke="#3d7356" stroke-width="0.6"/>
<rect x="717.58" y="375.40" width="3.5" height="12.30" fill="#d7503c" stroke="#9f3c2d" stroke-width="0.6"/>
<rect x="722.72" y="371.30" width="3.5" height="4.20" fill="#5b9b77" stroke="#3d7356" stroke-width="0.6"/>
<rect x="727.87" y="371.30" width="3.5" height="15.40" fill="#d7503c" stroke="#9f3c2d" stroke-width="0.6"/>
<rect x="733.01" y="340.30" width="3.5" height="46.40" fill="#5b9b77" stroke="#3d7356" stroke-width="0.6"/>
<rect x="738.15" y="345.20" width="3.5" height="38.60" fill="#d7503c" stroke="#9f3c2d" stroke-width="0.6"/>
<rect x="743.30" y="380.00" width="3.5" height="1.00" fill="#5b9b77" stroke="#3d7356" stroke-width="0.6"/>
<rect x="748.44" y="358.60" width="3.5" height="5.90" fill="#d7503c" stroke="#9f3c2d" stroke-width="0.6"/>
</g>
<line x1="987.5" x2="987.5" y1="14.7" y2="527" stroke="#9d9d9d" stroke-width="1.05"/>
<line x1="6" x2="1018" y1="512.3" y2="512.3" stroke="#b0b0b0" stroke-width="1.05"/>
<rect x="989.7" y="17.5" width="26.3" height="13.3" rx="1.5" fill="#fff" stroke="#eceef2"/>
<text x="994.2" y="26.8" font-size="7" fill="#4a4a4a" textLength="4.3" lengthAdjust="spacingAndGlyphs">%</text>
<text x="992" y="54.60" font-size="7.1" fill="#5e5e5e" textLength="20.7" lengthAdjust="spacingAndGlyphs">4.650%</text>
<text x="992" y="84.07" font-size="7.1" fill="#5e5e5e" textLength="20.7" lengthAdjust="spacingAndGlyphs">4.600%</text>
<text x="992" y="113.53" font-size="7.1" fill="#5e5e5e" textLength="20.7" lengthAdjust="spacingAndGlyphs">4.550%</text>
<text x="992" y="143.00" font-size="7.1" fill="#5e5e5e" textLength="20.7" lengthAdjust="spacingAndGlyphs">4.500%</text>
<text x="992" y="172.47" font-size="7.1" fill="#5e5e5e" textLength="20.7" lengthAdjust="spacingAndGlyphs">4.450%</text>
<text x="992" y="201.93" font-size="7.1" fill="#5e5e5e" textLength="20.7" lengthAdjust="spacingAndGlyphs">4.400%</text>
<text x="992" y="231.40" font-size="7.1" fill="#5e5e5e" textLength="20.7" lengthAdjust="spacingAndGlyphs">4.350%</text>
<text x="992" y="260.87" font-size="7.1" fill="#5e5e5e" textLength="20.7" lengthAdjust="spacingAndGlyphs">4.300%</text>
<text x="992" y="290.33" font-size="7.1" fill="#5e5e5e" textLength="20.7" lengthAdjust="spacingAndGlyphs">4.250%</text>
<text x="992" y="319.80" font-size="7.1" fill="#5e5e5e" textLength="20.7" lengthAdjust="spacingAndGlyphs">4.200%</text>
<text x="992" y="349.27" font-size="7.1" fill="#5e5e5e" textLength="20.7" lengthAdjust="spacingAndGlyphs">4.150%</text>
<text x="992" y="378.73" font-size="7.1" fill="#5e5e5e" textLength="20.7" lengthAdjust="spacingAndGlyphs">4.100%</text>
<text x="992" y="408.20" font-size="7.1" fill="#5e5e5e" textLength="20.7" lengthAdjust="spacingAndGlyphs">4.050%</text>
<text x="992" y="437.66" font-size="7.1" fill="#5e5e5e" textLength="20.7" lengthAdjust="spacingAndGlyphs">4.000%</text>
<text x="992" y="467.13" font-size="7.1" fill="#5e5e5e" textLength="20.7" lengthAdjust="spacingAndGlyphs">3.950%</text>
<text x="992" y="496.60" font-size="7.1" fill="#5e5e5e" textLength="20.7" lengthAdjust="spacingAndGlyphs">3.900%</text>
<rect x="987.6" y="67.90" width="28.2" height="9.4" rx="1" fill="#ff0000"/>
<text x="992.2" y="74.90" font-size="6.8" font-weight="bold" fill="#fff" textLength="20.5" lengthAdjust="spacingAndGlyphs">4.616%</text>
<rect x="987.6" y="194.70" width="28.2" height="9.4" rx="1" fill="#ff0000"/>
<text x="992.2" y="201.70" font-size="6.8" font-weight="bold" fill="#fff" textLength="20.5" lengthAdjust="spacingAndGlyphs">4.401%</text>
<rect x="987.6" y="259.90" width="28.2" height="9.4" rx="1" fill="#f7254a"/>
<text x="992.2" y="266.90" font-size="6.8" font-weight="bold" fill="#fff" textLength="20.5" lengthAdjust="spacingAndGlyphs">4.290%</text>
<rect x="987.6" y="309.90" width="28.2" height="9.4" rx="1" fill="#3f72f0"/>
<text x="992.2" y="316.90" font-size="6.8" font-weight="bold" fill="#fff" textLength="20.5" lengthAdjust="spacingAndGlyphs">4.206%</text>
<rect x="987.6" y="359.90" width="28.2" height="9.4" rx="1" fill="#cc5d4b"/>
<text x="992.2" y="366.90" font-size="6.8" font-weight="bold" fill="#fff" textLength="20.5" lengthAdjust="spacingAndGlyphs">4.120%</text>
<rect x="987.6" y="369.00" width="28.2" height="9.4" rx="1" fill="#ff0000"/>
<text x="992.2" y="376.00" font-size="6.8" font-weight="bold" fill="#fff" textLength="20.5" lengthAdjust="spacingAndGlyphs">4.111%</text>
<rect x="987.6" y="378.40" width="28.2" height="9.4" rx="1" fill="#f9be32"/>
<text x="992.2" y="385.40" font-size="6.8" font-weight="bold" fill="#333" textLength="20.5" lengthAdjust="spacingAndGlyphs">4.088%</text>
<rect x="987.6" y="502.70" width="28.2" height="9.4" rx="1" fill="#ff0000"/>
<text x="992.2" y="509.70" font-size="6.8" font-weight="bold" fill="#fff" textLength="20.5" lengthAdjust="spacingAndGlyphs">3.865%</text>
<rect x="964.4" y="359.9" width="23.2" height="9.4" rx="1" fill="#cc5d4b"/>
<text x="966.5" y="366.9" font-size="6.7" fill="#fff" textLength="19" lengthAdjust="spacingAndGlyphs">US10Y</text>
<text x="70.9" y="522" font-size="6.5" fill="#555" text-anchor="middle">May</text>
<text x="178.9" y="522" font-size="6.5" fill="#555" text-anchor="middle">Jun</text>
<text x="281.6" y="522" font-size="6.5" fill="#555" text-anchor="middle">Jul</text>
<text x="395" y="522" font-size="6.5" fill="#555" text-anchor="middle">Aug</text>
<text x="503.1" y="522" font-size="6.5" fill="#555" text-anchor="middle">Sep</text>
<text x="611.2" y="522" font-size="6.5" fill="#555" text-anchor="middle">Oct</text>
<text x="724" y="522" font-size="6.5" fill="#555" text-anchor="middle">Nov</text>
<text x="816.6" y="522" font-size="6.5" fill="#555" text-anchor="middle">Dec</text>
<text x="922.1" y="522.1" font-size="7.7" fill="#3c3c3c" textLength="15.6" lengthAdjust="spacingAndGlyphs">2026</text>
<text x="10" y="26" font-size="7" fill="#666" textLength="133" lengthAdjust="spacingAndGlyphs">US Government Bonds 10 YR Yield · 1D · TVC</text>
<text x="148" y="26" font-size="7" fill="#874039" textLength="47.3" lengthAdjust="spacingAndGlyphs">+0.027 (+0.66%)</text>
<text x="10" y="34.9" font-size="6.5" fill="#666" textLength="8.8" lengthAdjust="spacingAndGlyphs">MA</text>
<text x="10" y="44.1" font-size="6.5" fill="#666" textLength="8.8" lengthAdjust="spacingAndGlyphs">MA</text>
<text x="10" y="53.5" font-size="6.5" fill="#666" textLength="8.8" lengthAdjust="spacingAndGlyphs">MA</text>
<circle cx="750.1" cy="504.8" r="5.2" fill="#fff" stroke="#a449cf" stroke-width="1.2"/>
<path d="M751.8 501.8 L748.1 505.3 L750.0 505.3 L748.6 508.0 L752.3 504.3 L750.4 504.3 Z" fill="#9d3fc9"/>
<circle cx="754.3" cy="500.9" r="2.1" fill="#f2263c" stroke="#fff" stroke-width="0.9"/>
<g transform="translate(6.6,538) scale(0.456)" fill="#131313"><path d="M14 22H7V11H0V4h14v18zM31.2 22h-9l4.4-18h9.2L31.2 22z"/><circle cx="20.5" cy="7.9" r="3.6"/></g>
<text x="27.5" y="548.3" font-size="11.5" font-weight="bold" fill="#131313" textLength="67" lengthAdjust="spacingAndGlyphs">TradingView</text>
</svg></body></html>
